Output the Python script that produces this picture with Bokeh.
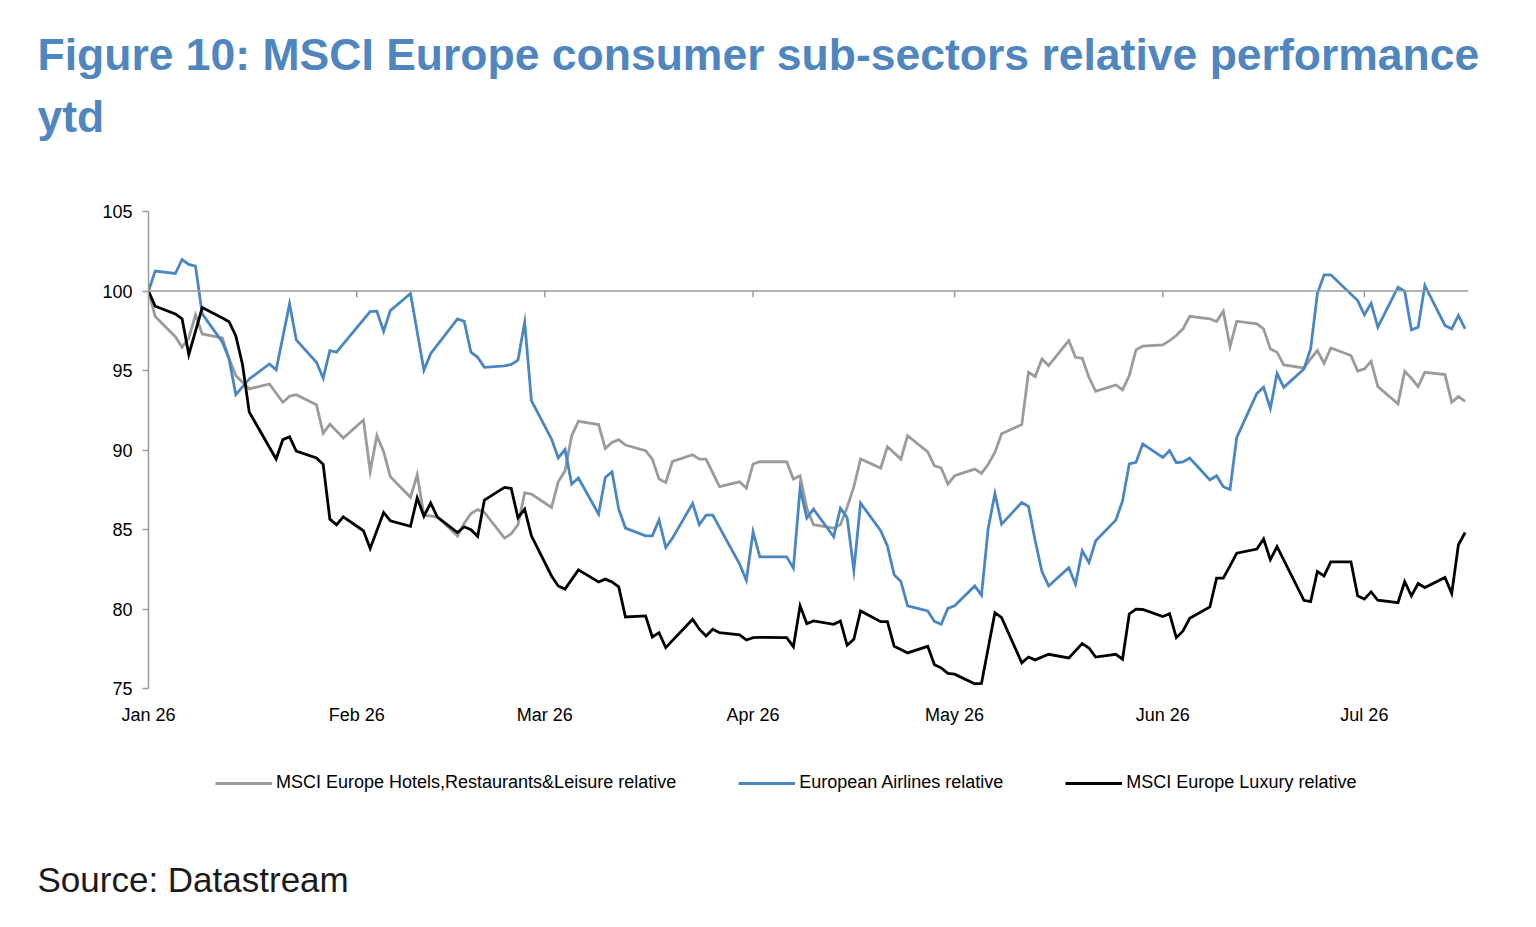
import pandas as pd
from bokeh.plotting import figure
from bokeh.layouts import column
from bokeh.models import (Range1d, FixedTicker, DatetimeTickFormatter, Span, Title,
                          Legend, LegendItem, ColumnDataSource)
from bokeh.embed import file_html
from bokeh.resources import INLINE

YEAR = "2026"

# (month-day, value) pairs
hotels = [
    ("01-01", 100), ("01-02", 98.39), ("01-05", 97.13), ("01-06", 96.46), ("01-07", 97.05),
    ("01-08", 98.5), ("01-09", 97.3), ("01-12", 97.05), ("01-13", 95.73), ("01-14", 94.68),
    ("01-16", 93.84), ("01-19", 94.15), ("01-21", 93.0), ("01-22", 93.38), ("01-23", 93.48),
    ("01-26", 92.85), ("01-27", 91.05), ("01-28", 91.63), ("01-30", 90.75), ("02-02", 91.89),
    ("02-03", 88.66), ("02-04", 90.9), ("02-05", 89.9), ("02-06", 88.32), ("02-09", 87.03),
    ("02-10", 88.44), ("02-11", 85.9), ("02-13", 85.8), ("02-16", 84.6), ("02-17", 85.4),
    ("02-18", 86.0), ("02-19", 86.25), ("02-20", 86.07), ("02-23", 84.46), ("02-24", 84.73),
    ("02-25", 85.3), ("02-26", 87.3), ("02-27", 87.23), ("03-02", 86.39), ("03-03", 88.0),
    ("03-04", 88.68), ("03-05", 90.9), ("03-06", 91.8), ("03-09", 91.6), ("03-10", 90.1),
    ("03-11", 90.48), ("03-12", 90.65), ("03-13", 90.31), ("03-16", 89.96), ("03-17", 89.43),
    ("03-18", 88.17), ("03-19", 87.96), ("03-20", 89.28), ("03-23", 89.7), ("03-24", 89.43),
    ("03-25", 89.43), ("03-27", 87.69), ("03-30", 88.0), ("03-31", 87.6), ("04-01", 89.12),
    ("04-02", 89.26), ("04-06", 89.26), ("04-07", 88.17), ("04-08", 88.38), ("04-09", 86.34),
    ("04-10", 85.3), ("04-13", 85.09), ("04-14", 85.3), ("04-15", 86.39), ("04-16", 87.69),
    ("04-17", 89.43), ("04-20", 88.87), ("04-21", 90.21), ("04-23", 89.43), ("04-24", 90.9),
    ("04-27", 89.88), ("04-28", 89.01), ("04-29", 88.87), ("04-30", 87.86), ("05-01", 88.38),
    ("05-04", 88.8), ("05-05", 88.53), ("05-06", 89.1), ("05-07", 89.85), ("05-08", 91.02),
    ("05-11", 91.6), ("05-12", 94.89), ("05-13", 94.62), ("05-14", 95.73), ("05-15", 95.31),
    ("05-18", 96.88), ("05-19", 95.83), ("05-20", 95.77), ("05-21", 94.57), ("05-22", 93.69),
    ("05-25", 94.09), ("05-26", 93.78), ("05-27", 94.68), ("05-28", 96.3), ("05-29", 96.53),
    ("06-01", 96.61), ("06-02", 96.88), ("06-03", 97.2), ("06-04", 97.62), ("06-05", 98.41),
    ("06-08", 98.25), ("06-09", 98.08), ("06-10", 98.73), ("06-11", 96.5), ("06-12", 98.1),
    ("06-15", 97.93), ("06-16", 97.62), ("06-17", 96.36), ("06-18", 96.15), ("06-19", 95.35),
    ("06-22", 95.16), ("06-23", 95.73), ("06-24", 96.25), ("06-25", 95.45), ("06-26", 96.42),
    ("06-29", 95.94), ("06-30", 94.97), ("07-01", 95.1), ("07-02", 95.58), ("07-03", 93.99),
    ("07-06", 92.9), ("07-07", 94.95), ("07-08", 94.51), ("07-09", 93.99), ("07-10", 94.89),
    ("07-13", 94.74), ("07-14", 93.0), ("07-15", 93.36), ("07-16", 93.06),
]

airlines = [
    ("01-01", 100), ("01-02", 101.25), ("01-05", 101.1), ("01-06", 101.98), ("01-07", 101.67),
    ("01-08", 101.56), ("01-09", 98.56), ("01-12", 96.78), ("01-13", 95.73), ("01-14", 93.48),
    ("01-16", 94.47), ("01-19", 95.41), ("01-20", 95.04), ("01-22", 99.19), ("01-23", 96.92),
    ("01-26", 95.52), ("01-27", 94.53), ("01-28", 96.25), ("01-29", 96.15), ("01-30", 96.67),
    ("02-03", 98.71), ("02-04", 98.73), ("02-05", 97.47), ("02-06", 98.77), ("02-09", 99.84),
    ("02-11", 95.02), ("02-12", 96.06), ("02-16", 98.25), ("02-17", 98.09), ("02-18", 96.15),
    ("02-19", 95.83), ("02-20", 95.2), ("02-23", 95.29), ("02-24", 95.38), ("02-25", 95.65),
    ("02-26", 98.03), ("02-27", 93.1), ("03-02", 90.69), ("03-03", 89.5), ("03-04", 90.03),
    ("03-05", 87.86), ("03-06", 88.24), ("03-09", 85.97), ("03-10", 88.27), ("03-11", 88.63),
    ("03-12", 86.28), ("03-13", 85.09), ("03-16", 84.6), ("03-17", 84.6), ("03-18", 85.6),
    ("03-19", 83.87), ("03-20", 84.46), ("03-23", 86.64), ("03-24", 85.3), ("03-25", 85.9),
    ("03-26", 85.9), ("03-30", 82.82), ("03-31", 81.81), ("04-01", 84.86), ("04-02", 83.28),
    ("04-06", 83.28), ("04-07", 82.57), ("04-08", 87.6), ("04-09", 85.72), ("04-10", 86.28),
    ("04-13", 84.54), ("04-14", 86.34), ("04-15", 85.76), ("04-16", 82.44), ("04-17", 86.66),
    ("04-20", 84.92), ("04-21", 83.97), ("04-22", 82.15), ("04-23", 81.73), ("04-24", 80.2),
    ("04-27", 79.88), ("04-28", 79.22), ("04-29", 79.04), ("04-30", 80.04), ("05-01", 80.2),
    ("05-04", 81.45), ("05-05", 80.87), ("05-06", 85.07), ("05-07", 87.25), ("05-08", 85.34),
    ("05-11", 86.7), ("05-12", 86.45), ("05-13", 84.29), ("05-14", 82.36), ("05-15", 81.45),
    ("05-18", 82.6), ("05-19", 81.56), ("05-20", 83.66), ("05-21", 82.92), ("05-22", 84.29),
    ("05-25", 85.59), ("05-26", 86.8), ("05-27", 89.12), ("05-28", 89.22), ("05-29", 90.38),
    ("06-01", 89.53), ("06-02", 89.96), ("06-03", 89.2), ("06-04", 89.25), ("06-05", 89.5),
    ("06-08", 88.11), ("06-09", 88.38), ("06-10", 87.69), ("06-11", 87.52), ("06-12", 90.79),
    ("06-15", 93.56), ("06-16", 93.94), ("06-17", 92.62), ("06-18", 94.82), ("06-19", 93.94),
    ("06-22", 95.1), ("06-23", 96.36), ("06-24", 99.82), ("06-25", 101.02), ("06-26", 101.02),
    ("06-30", 99.4), ("07-01", 98.5), ("07-02", 99.23), ("07-03", 97.72), ("07-06", 100.24),
    ("07-07", 99.99), ("07-08", 97.56), ("07-09", 97.72), ("07-10", 100.35), ("07-13", 97.83),
    ("07-14", 97.62), ("07-15", 98.46), ("07-16", 97.62),
]

luxury = [
    ("01-01", 100), ("01-02", 99.04), ("01-05", 98.56), ("01-06", 98.25), ("01-07", 96.0),
    ("01-09", 98.96), ("01-12", 98.3), ("01-13", 98.07), ("01-14", 97.17), ("01-15", 95.36),
    ("01-16", 92.38), ("01-20", 89.43), ("01-21", 90.65), ("01-22", 90.83), ("01-23", 89.93),
    ("01-26", 89.5), ("01-27", 89.1), ("01-28", 85.65), ("01-29", 85.3), ("01-30", 85.8),
    ("02-02", 84.92), ("02-03", 83.8), ("02-05", 86.07), ("02-06", 85.55), ("02-09", 85.2),
    ("02-10", 86.99), ("02-11", 85.83), ("02-12", 86.67), ("02-13", 85.78), ("02-16", 84.81),
    ("02-17", 85.17), ("02-18", 84.99), ("02-19", 84.57), ("02-20", 86.85), ("02-23", 87.65),
    ("02-24", 87.58), ("02-25", 85.74), ("02-26", 86.28), ("02-27", 84.6), ("03-02", 82.08),
    ("03-03", 81.45), ("03-04", 81.25), ("03-06", 82.46), ("03-09", 81.7), ("03-10", 81.88),
    ("03-11", 81.7), ("03-12", 81.39), ("03-13", 79.5), ("03-16", 79.57), ("03-17", 78.24),
    ("03-18", 78.51), ("03-19", 77.57), ("03-23", 79.36), ("03-24", 78.73), ("03-25", 78.3),
    ("03-26", 78.73), ("03-27", 78.51), ("03-30", 78.37), ("03-31", 78.05), ("04-01", 78.2),
    ("04-02", 78.22), ("04-06", 78.2), ("04-07", 77.63), ("04-08", 80.2), ("04-09", 79.08),
    ("04-10", 79.25), ("04-13", 79.04), ("04-14", 79.25), ("04-15", 77.72), ("04-16", 78.1),
    ("04-17", 79.88), ("04-20", 79.2), ("04-21", 79.2), ("04-22", 77.66), ("04-23", 77.45),
    ("04-24", 77.24), ("04-27", 77.65), ("04-28", 76.5), ("04-29", 76.3), ("04-30", 75.95),
    ("05-01", 75.9), ("05-04", 75.3), ("05-05", 75.32), ("05-07", 79.77), ("05-08", 79.46),
    ("05-11", 76.61), ("05-12", 76.98), ("05-13", 76.8), ("05-15", 77.15), ("05-18", 76.92),
    ("05-20", 77.82), ("05-21", 77.55), ("05-22", 76.98), ("05-25", 77.15), ("05-26", 76.84),
    ("05-27", 79.69), ("05-28", 79.99), ("05-29", 79.97), ("06-01", 79.53), ("06-02", 79.71),
    ("06-03", 78.2), ("06-04", 78.62), ("06-05", 79.42), ("06-08", 80.13), ("06-09", 81.94),
    ("06-10", 81.94), ("06-11", 82.71), ("06-12", 83.51), ("06-15", 83.77), ("06-16", 84.4),
    ("06-17", 83.1), ("06-18", 83.93), ("06-22", 80.55), ("06-23", 80.47), ("06-24", 82.36),
    ("06-25", 82.08), ("06-26", 82.97), ("06-29", 82.97), ("06-30", 80.83), ("07-01", 80.62),
    ("07-02", 81.08), ("07-03", 80.55), ("07-06", 80.4), ("07-07", 81.73), ("07-08", 80.83),
    ("07-09", 81.6), ("07-10", 81.35), ("07-13", 81.98), ("07-14", 80.97), ("07-15", 84.04),
    ("07-16", 84.81),
]

series_names = [
    "MSCI Europe Hotels,Restaurants&Leisure relative",
    "European Airlines relative",
    "MSCI Europe Luxury relative",
]
series_colors = ["#9b9b9b", "#4a86c1", "#000000"]
month_ticks = ["2026-01-01", "2026-02-01", "2026-03-01", "2026-04-01",
               "2026-05-01", "2026-06-01", "2026-07-01"]
y_ticks = [75, 80, 85, 90, 95, 100, 105]

title_line1 = "Figure 10: MSCI Europe consumer sub-sectors relative performance"
title_line2 = "ytd"
source_text = "Source: Datastream"

FONT = "Liberation Sans"
AXIS_GRAY = "#9b9b9b"
TITLE_BLUE = "#4f86c0"
W = 1536
CHART_H = 728
LEG_H = 927 - CHART_H


def to_source(pairs):
    dates = pd.to_datetime([YEAR + "-" + d for d, _ in pairs])
    vals = [v for _, v in pairs]
    return ColumnDataSource(dict(x=dates, y=vals))


# ---------------- chart ----------------
x_start = pd.Timestamp("2026-01-01")
x_end = pd.Timestamp("2026-07-16 12:00")

p = figure(width=W, height=CHART_H, x_axis_type="datetime", title=None,
           x_range=Range1d(x_start, x_end), y_range=Range1d(75, 105),
           output_backend="svg", toolbar_location=None,
           min_border_left=148, min_border_right=68, min_border_top=211,
           min_border_bottom=CHART_H - 688)
p.outline_line_color = None
p.grid.grid_line_color = None
p.background_fill_color = "white"
p.border_fill_color = "white"

p.yaxis.ticker = FixedTicker(ticks=y_ticks)
p.yaxis.axis_line_color = AXIS_GRAY
p.yaxis.axis_line_width = 1.5
p.yaxis.major_tick_line_color = AXIS_GRAY
p.yaxis.major_tick_line_width = 1.5
p.yaxis.major_tick_out = 6
p.yaxis.major_tick_in = 0
p.yaxis.minor_tick_line_color = None
p.yaxis.minor_tick_out = 0
p.yaxis.major_label_standoff = 10
p.yaxis.major_label_text_font = FONT
p.yaxis.major_label_text_font_size = "18px"
p.yaxis.major_label_text_color = "#000000"

month_ms = [pd.Timestamp(m).value / 1e6 for m in month_ticks]
p.xaxis.ticker = FixedTicker(ticks=month_ms)
p.xaxis.formatter = DatetimeTickFormatter(months="%b %y", days="%b %y", years="%b %y")
p.xaxis.axis_line_color = None
p.xaxis.major_tick_line_color = None
p.xaxis.minor_tick_line_color = None
p.xaxis.major_tick_out = 0
p.xaxis.major_tick_in = 0
p.xaxis.minor_tick_out = 0
p.xaxis.major_label_standoff = 16
p.xaxis.major_label_text_font = FONT
p.xaxis.major_label_text_font_size = "18px"
p.xaxis.major_label_text_color = "#000000"

# category axis crossing at 100, with its month tick marks
p.add_layout(Span(location=100, dimension="width", line_color=AXIS_GRAY, line_width=1.5))
tick_src = ColumnDataSource(dict(x=pd.to_datetime(month_ticks),
                                 y0=[100] * len(month_ticks),
                                 y1=[99.6] * len(month_ticks)))
p.segment(x0="x", y0="y0", x1="x", y1="y1", source=tick_src,
          line_color=AXIS_GRAY, line_width=1.5)

for data, color in zip([hotels, airlines, luxury], series_colors):
    p.line("x", "y", source=to_source(data), line_color=color, line_width=2.8,
           line_join="miter")

# titles above the frame (nearest the frame first)
p.add_layout(Title(text=" ", text_font_size="10px", standoff=56), "above")
p.add_layout(Title(text=title_line2, align="left", offset=-111, vertical_align="top",
                   standoff=0, text_font=FONT, text_font_style="bold",
                   text_font_size="44.5px", text_color=TITLE_BLUE), "above")
p.add_layout(Title(text=title_line1, align="left", offset=-111, vertical_align="bottom",
                   standoff=25, text_font=FONT, text_font_style="bold",
                   text_font_size="44.5px", text_color=TITLE_BLUE), "above")

# ---------------- legend + source ----------------
leg = figure(width=W, height=LEG_H, x_range=(0, 1), y_range=(0, 1),
             x_axis_location=None, y_axis_location=None, title=None,
             output_backend="svg", toolbar_location=None,
             min_border_left=148, min_border_right=68, min_border_top=0,
             min_border_bottom=68)
leg.outline_line_color = None
leg.grid.visible = False
leg.background_fill_color = "white"
leg.border_fill_color = "white"

nan = float("nan")
legend_renderers = [leg.line(x=[nan], y=[nan], line_color=c, line_width=3) for c in series_colors]
legend = Legend(items=[LegendItem(label=n, renderers=[r])
                       for n, r in zip(series_names, legend_renderers)],
                orientation="horizontal", location=(67, 66),
                glyph_width=57, glyph_height=20, label_height=20, label_standoff=4,
                spacing=62, padding=0, margin=0, border_line_color=None,
                background_fill_alpha=0, label_text_font=FONT,
                label_text_font_size="18px", label_text_color="#000000")
leg.add_layout(legend)
leg.add_layout(Title(text=source_text, align="left", offset=-111, vertical_align="top",
                     standoff=0, text_font=FONT, text_font_style="normal",
                     text_font_size="35px", text_color="#1a1a1a"), "below")

layout = column(p, leg, spacing=0)
open("out.html", "w").write(file_html(layout, INLINE))
